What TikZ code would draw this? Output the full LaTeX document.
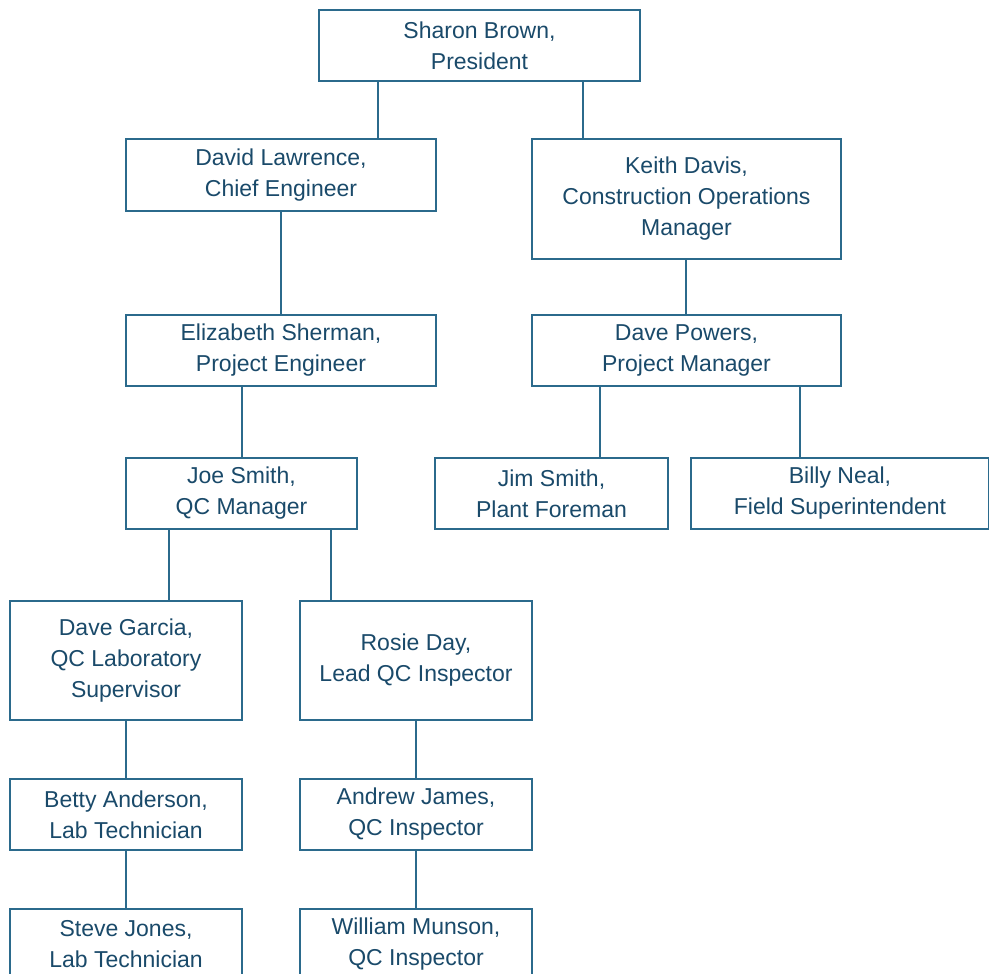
\documentclass[tikz,border=0pt]{standalone}
\usepackage{fontspec}
\setmainfont{Liberation Sans}
\definecolor{txt}{HTML}{1A4A6A}
\definecolor{ln}{HTML}{2B6A8C}
\begin{document}
\begin{tikzpicture}[x=1pt,y=-1pt,
  box/.style={draw=ln, line width=1.6pt, fill=white, text=txt, align=center, inner sep=0pt,
    font=\fontsize{23}{31}\selectfont},
  conn/.style={draw=ln, line width=1.6pt}]
\useasboundingbox (0,0) rectangle (989,974);
\node[box, minimum width=321pt, minimum height=71pt] (sharon) at (479.5,45.5) {Sharon Brown,\\President};
\node[box, minimum width=310pt, minimum height=72pt] (david) at (281,175) {David Lawrence,\\Chief Engineer};
\node[box, minimum width=309pt, minimum height=120pt] (keith) at (686.5,199) {Keith Davis,\\Construction Operations\\Manager};
\node[box, minimum width=310pt, minimum height=71pt] (eliz) at (281,350.5) {Elizabeth Sherman,\\Project Engineer};
\node[box, minimum width=309pt, minimum height=71pt] (powers) at (686.5,350.5) {Dave Powers,\\Project Manager};
\node[box, minimum width=231pt, minimum height=71pt] (joe) at (241.5,493.5) {Joe Smith,\\QC Manager};
\node[box, minimum width=233pt, minimum height=71pt] (jim) at (551.5,493.5) {Jim Smith,\\Plant Foreman};
\node[box, minimum width=298pt, minimum height=71pt] (billy) at (840,493.5) {Billy Neal,\\Field Superintendent};
\node[box, minimum width=232pt, minimum height=119pt] (garcia) at (126,660.5) {Dave Garcia,\\QC Laboratory\\Supervisor};
\node[box, minimum width=232pt, minimum height=119pt] (rosie) at (416,660.5) {Rosie Day,\\Lead QC Inspector};
\node[box, minimum width=232pt, minimum height=71pt] (betty) at (126,814.5) {Betty Anderson,\\Lab Technician};
\node[box, minimum width=232pt, minimum height=71pt] (andrew) at (416,814.5) {Andrew James,\\QC Inspector};
\node[box, minimum width=232pt, minimum height=71pt] (steve) at (126,944.5) {Steve Jones,\\Lab Technician};
\node[box, minimum width=232pt, minimum height=71pt] (william) at (416,944.5) {William Munson,\\QC Inspector};
\draw[conn] ([xshift=-101.5pt]sharon.south) -- ([xshift=97pt]david.north);
\draw[conn] ([xshift=103.5pt]sharon.south) -- ([xshift=-103.5pt]keith.north);
\draw[conn] (david.south) -- (eliz.north);
\draw[conn] ([xshift=-0.5pt]keith.south) -- ([xshift=-0.5pt]powers.north);
\draw[conn] ([xshift=-39pt]eliz.south) -- ([xshift=0.5pt]joe.north);
\draw[conn] ([xshift=-86.5pt]powers.south) -- ([xshift=48.5pt]jim.north);
\draw[conn] ([xshift=113.5pt]powers.south) -- ([xshift=-40pt]billy.north);
\draw[conn] ([xshift=-72.5pt]joe.south) -- ([xshift=43pt]garcia.north);
\draw[conn] ([xshift=89.5pt]joe.south) -- ([xshift=-85pt]rosie.north);
\draw[conn] (garcia.south) -- (betty.north);
\draw[conn] (betty.south) -- (steve.north);
\draw[conn] (rosie.south) -- (andrew.north);
\draw[conn] (andrew.south) -- (william.north);
\end{tikzpicture}
\end{document}
